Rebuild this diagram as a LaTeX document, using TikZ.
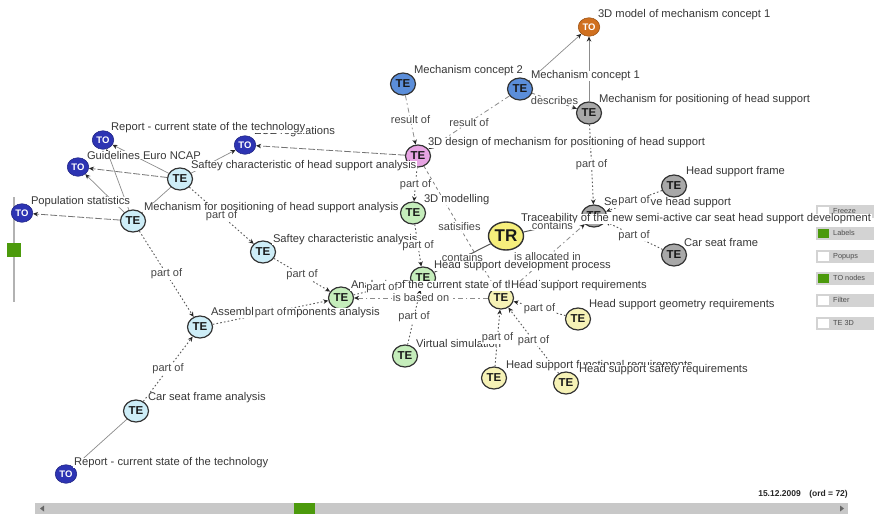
\documentclass[tikz,border=0pt]{standalone}
\usepackage{fontspec}
\setmainfont{Liberation Sans}
\usetikzlibrary{shapes.geometric,arrows.meta}

\definecolor{fillLB}{HTML}{CDEDF7}
\definecolor{fillGR}{HTML}{C5EDBB}
\definecolor{fillYE}{HTML}{F6F2B6}
\definecolor{fillGY}{HTML}{A8A8A8}
\definecolor{fillPK}{HTML}{E7A4E3}
\definecolor{fillBL}{HTML}{5B8EDA}
\definecolor{fillNV}{HTML}{2D34B3}
\definecolor{fillOR}{HTML}{D0701F}
\definecolor{fillTR}{HTML}{F6EF7C}
\definecolor{okgreen}{HTML}{4C9A0C}
\definecolor{panelgray}{HTML}{D3D3D3}
\definecolor{bargray}{HTML}{C8C8C8}

\pgfdeclarelayer{bg}
\pgfdeclarelayer{edges}
\pgfdeclarelayer{nlbl}
\pgfdeclarelayer{elbl}
\pgfsetlayers{bg,edges,main,nlbl,elbl}

\tikzset{
  te/.style={ellipse, draw=black!80, line width=1.2pt, minimum width=25pt,
    minimum height=22pt, inner sep=0pt, fill=#1, text=black!90,
    font=\bfseries\fontsize{11.5}{11.5}\selectfont},
  tonode/.style={ellipse, draw=#1!75!black, line width=0.6pt, minimum width=21.5pt,
    minimum height=18.5pt, inner sep=0pt, fill=#1, text=white,
    font=\bfseries\fontsize{9.5}{9.5}\selectfont},
  trnode/.style={ellipse, draw=black!80, line width=1.4pt, minimum width=35pt,
    minimum height=28pt, inner sep=0pt, fill=fillTR, text=black!90,
    font=\bfseries\fontsize{17}{17}\selectfont},
  nlab/.style={anchor=west, fill=white, inner xsep=0.8pt, inner ysep=0pt,
    text=black!78, font=\fontsize{11.2}{12}\selectfont},
  elab/.style={fill=white, inner xsep=0.8pt, inner ysep=0.4pt,
    text=black!72, font=\fontsize{11}{12}\selectfont},
  arr/.style={-{Stealth[length=5pt,width=4.5pt,color=black!85]}},
  sld/.style={draw=black!45, line width=0.7pt},
  dotl/.style={draw=black!65, line width=0.9pt, dash pattern=on 1.6pt off 2.2pt},
  ddot/.style={draw=black!45, line width=0.8pt, dash pattern=on 5pt off 3pt on 1.5pt off 3pt},
  ldash/.style={draw=black!55, line width=0.8pt, dash pattern=on 7pt off 2pt},
  sdash/.style={draw=black!50, line width=0.8pt, dash pattern=on 3pt off 3pt},
  cont/.style={draw=black!65, line width=1pt},
  btn/.style={anchor=west, inner sep=0pt, text=black!70, font=\fontsize{7.3}{7.3}\selectfont},
}

% graph node with its caption at the upper right
\newcommand\gnode[8]{%
  \node[#4] (#1) at (#2,#3) {#5};
  \begin{pgfonlayer}{nlbl}\node[nlab] (#1-l) at (#2+#6,#3+#7) {#8};\end{pgfonlayer}}
% relation with a caption in the middle
\newcommand\gedge[4]{%
  \begin{pgfonlayer}{edges}\draw[#1] (#2) -- (#3);\end{pgfonlayer}
  \begin{pgfonlayer}{elbl}\path (#2) -- (#3) node[elab, midway] (#2-#3) {#4};\end{pgfonlayer}}
% relation without caption
\newcommand\gline[3]{%
  \begin{pgfonlayer}{edges}\draw[#1] (#2) -- (#3);\end{pgfonlayer}}

\begin{document}
\begin{tikzpicture}[x=1pt, y=-1pt]
\useasboundingbox (0,0) rectangle (874,514);

\begin{pgfonlayer}{bg}
  \fill[white] (0,0) rectangle (874,514);
  % zoom slider
  \draw[black!30, line width=2pt] (14,197) -- (14,302);
  \fill[okgreen] (7,243) rectangle (21,257);
  % time line
  \fill[bargray] (35,503) rectangle (848,514);
  \fill[black!60] (44,505.5) -- (44,511.5) -- (40,508.5) -- cycle;
  \fill[black!60] (840,505.5) -- (840,511.5) -- (844,508.5) -- cycle;
  \fill[okgreen] (294,503) rectangle (315,514);
  \node[anchor=east, inner sep=0pt, text=black!85,
    font=\bfseries\fontsize{8.5}{9}\selectfont] (stamp) at (848,494) {15.12.2009\quad(ord = 72)};
  % option buttons
  \foreach \yy/\tx/\on [count=\i] in {205/Freeze/0,227/Labels/1,250/Popups/0,272/TO nodes/1,294/Filter/0,317/TE 3D/0}{
    \fill[panelgray] (816,\yy) rectangle (874,\yy+12.5);
    \ifnum\on=1
      \fill[okgreen] (818,\yy+1.5) rectangle (829,\yy+11);
    \else
      \fill[white] (818,\yy+1.5) rectangle (829,\yy+11);
    \fi
    \node[btn] (btn\i) at (833,\yy+6.3) {\tx};
  }
\end{pgfonlayer}

% ---------- nodes ----------
\gnode{orto}{589}{27}{tonode=fillOR}{TO}{8}{-12}{3D model of mechanism concept 1}
\gnode{c2}{403}{84}{te=fillBL}{TE}{10}{-13}{Mechanism concept 2}
\gnode{c1}{520}{89}{te=fillBL}{TE}{10}{-13}{Mechanism concept 1}
\gnode{mpos}{589}{113}{te=fillGY}{TE}{9}{-13}{Mechanism for positioning of head support}
\gnode{des}{418}{156}{te=fillPK}{TE}{9}{-13}{3D design of mechanism for positioning of head support}
\gnode{ece}{245}{145}{tonode=fillNV}{TO}{8}{-13}{ECE regulations}
\gnode{rep1}{103}{140}{tonode=fillNV}{TO}{7}{-12}{Report - current state of the technology}
\gnode{euro}{78}{167}{tonode=fillNV}{TO}{8}{-12}{Guidelines Euro NCAP}
\gnode{shs}{180}{179}{te=fillLB}{TE}{10}{-13}{Saftey characteristic of head support analysis}
\gnode{pop}{22}{213}{tonode=fillNV}{TO}{8}{-11}{Population statistics}
\gnode{mpa}{133}{221}{te=fillLB}{TE}{10}{-13}{Mechanism for positioning of head support analysis}
\gnode{sca}{263}{252}{te=fillLB}{TE}{9}{-12}{Saftey characteristic analysis}
\gnode{asm}{200}{327}{te=fillLB}{TE}{10}{-14}{Assembly of components analysis}
\gnode{csa}{136}{411}{te=fillLB}{TE}{11}{-13}{Car seat frame analysis}
\gnode{rep2}{66}{474}{tonode=fillNV}{TO}{7}{-11}{Report - current state of the technology}
\gnode{mod}{413}{213}{te=fillGR}{TE}{10}{-13}{3D modelling}
\gnode{dev}{423}{278}{te=fillGR}{TE}{10}{-12}{Head support development process}
\gnode{ana}{341}{298}{te=fillGR}{TE}{9}{-12}{Analysis of the current state of the technology}
\gnode{vir}{405}{356}{te=fillGR}{TE}{10}{-13}{Virtual simulation}
\gnode{tr}{506}{236}{trnode}{TR}{14}{-17}{Traceability of the new semi-active car seat head support development}
\gnode{semi}{594}{216}{te=fillGY}{TE}{9}{-13}{Semi-active head support}
\gnode{hsf}{674}{186}{te=fillGY}{TE}{11}{-14}{Head support frame}
\gnode{csf}{674}{255}{te=fillGY}{TE}{9}{-13}{Car seat frame}
\gnode{req}{501}{298}{te=fillYE}{TE}{9}{-12}{Head support requirements}
\gnode{geo}{578}{319}{te=fillYE}{TE}{10}{-14}{Head support geometry requirements}
\gnode{fun}{494}{378}{te=fillYE}{TE}{11}{-12}{Head support functional requirements}
\gnode{saf}{566}{383}{te=fillYE}{TE}{12}{-13}{Head support safety requirements}

% ---------- relations ----------
\gline{sld,arr}{c1}{orto}
\gline{sld,arr}{mpos}{orto}
\gedge{sdash,arr}{c1}{mpos}{describes}
\gedge{ddot,arr}{c2}{des}{result of}
\gedge{ddot,arr}{c1}{des}{result of}
\gedge{dotl,arr}{mpos}{semi}{part of}
\gline{ldash,arr}{des}{ece}
\gedge{dotl,arr}{des}{mod}{part of}
\gedge{sdash}{des}{req}{satisifies}
\gedge{dotl,arr}{mod}{dev}{part of}
\gedge{cont}{tr}{dev}{contains}
\gedge{cont}{tr}{semi}{contains}
\gedge{ddot,arr}{req}{semi}{is allocated in}
\gedge{dotl,arr}{ana}{dev}{part of}
\gedge{dotl,arr}{vir}{dev}{part of}
\gedge{ddot,arr}{req}{ana}{is based on}
\gedge{dotl,arr}{sca}{ana}{part of}
\gedge{dotl,arr}{asm}{ana}{part of}
\gedge{dotl,arr}{mpa}{asm}{part of}
\gedge{dotl,arr}{csa}{asm}{part of}
\gline{sld}{csa}{rep2}
\gedge{dotl,arr}{shs}{sca}{part of}
\gline{sld,arr}{shs}{ece}
\gline{sld,arr}{shs}{rep1}
\gline{ldash,arr}{shs}{euro}
\gline{sld,arr}{mpa}{euro}
\gline{sld,arr}{mpa}{rep1}
\gline{ldash,arr}{mpa}{pop}
\gline{sld}{mpa}{shs}
\gedge{dotl,arr}{hsf}{semi}{part of}
\gedge{dotl,arr}{csf}{semi}{part of}
\gedge{dotl,arr}{geo}{req}{part of}
\gedge{dotl,arr}{fun}{req}{part of}
\gedge{dotl,arr}{saf}{req}{part of}

\end{tikzpicture}
\end{document}
